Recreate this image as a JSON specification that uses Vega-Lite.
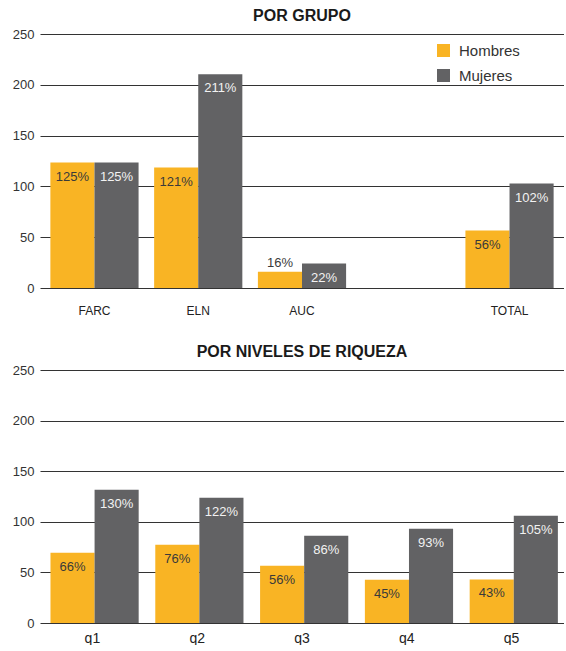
{
  "$schema": "https://vega.github.io/schema/vega-lite/v6.json",
  "padding": {"left": 12, "top": 8, "right": 0, "bottom": 0},
  "config": {
    "font": "Liberation Sans",
    "view": {"stroke": null},
    "concat": {"spacing": 28},
    "title": {"fontSize": 16, "fontWeight": "bold", "color": "#1a1a1a", "anchor": "middle", "offset": 4},
    "axis": {"zindex": 1},
    "axisY": {"grid": true, "gridColor": "#333333", "gridWidth": 1, "domain": false, "ticks": false, "labelFontSize": 13, "labelColor": "#333333", "labelPadding": 6, "title": null, "values": [0, 50, 100, 150, 200, 250]},
    "axisX": {"domain": false, "ticks": false, "labelAngle": 0, "labelColor": "#222222", "title": null, "grid": false}
  },
  "vconcat": [
    {
      "title": {"text": "POR GRUPO"},
      "width": 524,
      "height": 254,
      "data": {"values": [
        {"grupo": "FARC", "sexo": "Hombres", "valor": 123.5, "etiqueta": "125%"},
        {"grupo": "FARC", "sexo": "Mujeres", "valor": 123.5, "etiqueta": "125%"},
        {"grupo": "ELN", "sexo": "Hombres", "valor": 118.6, "etiqueta": "121%"},
        {"grupo": "ELN", "sexo": "Mujeres", "valor": 210.3, "etiqueta": "211%"},
        {"grupo": "AUC", "sexo": "Hombres", "valor": 16.1, "etiqueta": "16%"},
        {"grupo": "AUC", "sexo": "Mujeres", "valor": 24, "etiqueta": "22%"},
        {"grupo": "TOTAL", "sexo": "Hombres", "valor": 56.5, "etiqueta": "56%"},
        {"grupo": "TOTAL", "sexo": "Mujeres", "valor": 102.8, "etiqueta": "102%"}
      ]},
      "encoding": {
        "x": {"field": "grupo", "type": "nominal", "scale": {"domain": ["FARC", "ELN", "AUC", "_", "TOTAL"], "paddingInner": 0.15, "paddingOuter": 0.1}, "axis": {"labelFontSize": 12, "labelPadding": 17, "labelExpr": "datum.value == '_' ? '' : datum.value"}},
        "xOffset": {"field": "sexo", "type": "nominal", "sort": ["Hombres", "Mujeres"]},
        "y": {"field": "valor", "type": "quantitative", "scale": {"domain": [0, 250], "nice": false}}
      },
      "layer": [
        {
          "mark": {"type": "bar"},
          "encoding": {
            "color": {"field": "sexo", "type": "nominal", "scale": {"domain": ["Hombres", "Mujeres"], "range": ["#F9B424", "#626264"]},
              "legend": {"orient": "none", "legendX": 396, "legendY": 9, "title": null, "symbolType": "square", "symbolSize": 170, "symbolStrokeWidth": 0, "labelFontSize": 15, "labelColor": "#333333", "rowPadding": 9, "labelOffset": 8}}
          }
        },
        {
          "transform": [{"filter": "datum.valor >= 20"}],
          "mark": {"type": "text", "dy": 14, "fontSize": 13, "baseline": "middle"},
          "encoding": {
            "text": {"field": "etiqueta"},
            "color": {"condition": {"test": "datum.sexo == 'Hombres'", "value": "#3a3a3a"}, "value": "#f2f2f2"}
          }
        },
        {
          "transform": [{"filter": "datum.valor < 20"}],
          "mark": {"type": "text", "dy": -9, "fontSize": 13, "baseline": "middle", "color": "#3a3a3a"},
          "encoding": {"text": {"field": "etiqueta"}}
        }
      ]
    },
    {
      "title": {"text": "POR NIVELES DE RIQUEZA"},
      "width": 524,
      "height": 253,
      "data": {"values": [
        {"nivel": "q1", "sexo": "Hombres", "valor": 69.5, "etiqueta": "66%"},
        {"nivel": "q1", "sexo": "Mujeres", "valor": 131.7, "etiqueta": "130%"},
        {"nivel": "q2", "sexo": "Hombres", "valor": 77.4, "etiqueta": "76%"},
        {"nivel": "q2", "sexo": "Mujeres", "valor": 123.8, "etiqueta": "122%"},
        {"nivel": "q3", "sexo": "Hombres", "valor": 56.6, "etiqueta": "56%"},
        {"nivel": "q3", "sexo": "Mujeres", "valor": 86.3, "etiqueta": "86%"},
        {"nivel": "q4", "sexo": "Hombres", "valor": 42.8, "etiqueta": "45%"},
        {"nivel": "q4", "sexo": "Mujeres", "valor": 93.2, "etiqueta": "93%"},
        {"nivel": "q5", "sexo": "Hombres", "valor": 43, "etiqueta": "43%"},
        {"nivel": "q5", "sexo": "Mujeres", "valor": 106, "etiqueta": "105%"}
      ]},
      "encoding": {
        "x": {"field": "nivel", "type": "nominal", "scale": {"domain": ["q1", "q2", "q3", "q4", "q5"], "paddingInner": 0.2, "paddingOuter": 0.1}, "axis": {"labelFontSize": 14, "labelPadding": 8}},
        "xOffset": {"field": "sexo", "type": "nominal", "sort": ["Hombres", "Mujeres"]},
        "y": {"field": "valor", "type": "quantitative", "scale": {"domain": [0, 250], "nice": false}}
      },
      "layer": [
        {
          "mark": {"type": "bar"},
          "encoding": {
            "color": {"field": "sexo", "type": "nominal", "scale": {"domain": ["Hombres", "Mujeres"], "range": ["#F9B424", "#626264"]}, "legend": null}
          }
        },
        {
          "mark": {"type": "text", "dy": 14, "fontSize": 13, "baseline": "middle"},
          "encoding": {
            "text": {"field": "etiqueta"},
            "color": {"condition": {"test": "datum.sexo == 'Hombres'", "value": "#3a3a3a"}, "value": "#f2f2f2"}
          }
        }
      ]
    }
  ]
}
